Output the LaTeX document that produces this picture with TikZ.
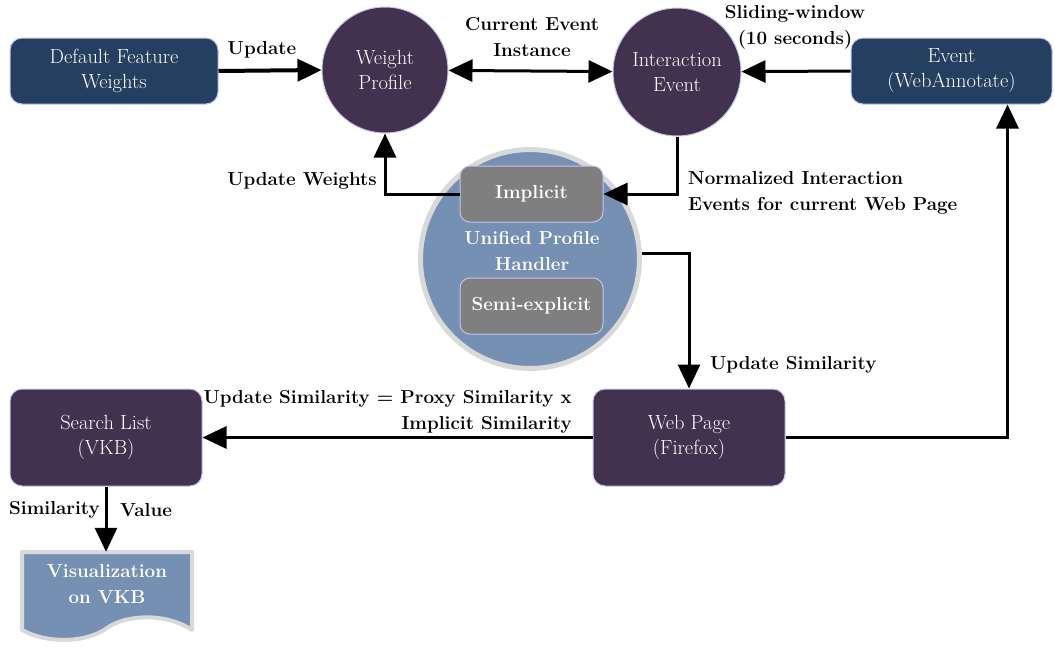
\documentclass[tikz,border=0pt]{standalone}
\usepackage{fontspec}
\usetikzlibrary{arrows.meta}
\definecolor{dblue}{HTML}{243F5F}
\definecolor{dpurple}{HTML}{42314F}
\definecolor{hblue}{HTML}{7690B3}
\definecolor{bgray}{HTML}{7F7F7F}
\definecolor{rgray}{HTML}{D9D9D9}
\definecolor{lav}{HTML}{C4C4EE}
\tikzset{
  box/.style={rounded corners=12pt, draw=lav, line width=1pt, text=white, align=center,
    font=\fontsize{20.5}{25}\selectfont, inner sep=0pt},
  circ/.style={circle, fill=dpurple, draw=lav, line width=1pt, text=white, align=center,
    font=\fontsize{20.5}{25}\selectfont, inner sep=0pt},
  gbox/.style={rounded corners=10pt, fill=bgray, draw=lav, line width=1pt, text=white,
    font=\bfseries\fontsize{18.8}{26}\selectfont, minimum width=143pt, minimum height=56pt, inner sep=0pt},
  lbl/.style={font=\bfseries\fontsize{18.8}{26}\selectfont, inner sep=0pt},
  arr/.style={line width=3pt, -{Triangle[length=24pt,width=22pt]}},
  darr/.style={line width=3pt, {Triangle[length=24pt,width=22pt]}-{Triangle[length=24pt,width=22pt]}}
}
\begin{document}
\begin{tikzpicture}[x=1pt,y=-1pt]
\useasboundingbox (0,0) rectangle (1055,646);
% nodes
\node[box, fill=dblue, minimum width=208pt, minimum height=66pt] (dfw) at (114,71) {Default Feature\\Weights};
\node[box, fill=dblue, minimum width=201pt, minimum height=66pt] (ev) at (951.5,71) {Event\\(WebAnnotate)};
\node[circ, minimum size=126pt] (wp) at (385,70) {Weight\\Profile};
\node[circ, minimum size=128pt] (ie) at (677,72) {Interaction\\Event};
\node[circle, fill=hblue, draw=rgray, line width=5pt, minimum size=219pt] (uph) at (530,259) {};
\node[gbox] (imp) at (531.5,194) {Implicit};
\node[gbox] (semi) at (531.5,306) {Semi-explicit};
\node[lbl, text=white, align=center] (uphl) at (532,251) {Unified Profile\\Handler};
\node[box, fill=dpurple, minimum width=192pt, minimum height=97pt] (sl) at (106,437.5) {Search List\\(VKB)};
\node[box, fill=dpurple, minimum width=192pt, minimum height=97pt] (web) at (689,437.5) {Web Page\\(Firefox)};
% visualization document shape
\draw[fill=hblue, draw=rgray, line width=4pt, line join=round]
  (22,552) -- (192,552) -- (192,630) .. controls (165,612) and (125,615) .. (107,628)
  .. controls (88,642) and (50,645) .. (22,630) -- cycle;
\node[lbl, text=white, align=center, minimum width=170pt, minimum height=84pt] (vis) at (106,594) {};
\node[lbl, text=white, align=center] (visl) at (107,584) {Visualization\\on VKB};
% connectors
\draw[arr, line width=4pt] (dfw.east) -- (wp.west);
\draw[darr] (wp) -- (ie);
\draw[arr] (ev.west) -- (ie);
\draw[arr] (imp.west) -| (wp.south);
\draw[arr] (ie.south) |- (imp.east);
\draw[arr] ([yshift=6pt]uph.east) -| (web.north);
\draw[arr] (web.west) -- (sl.east);
\draw[arr] (web.east) -| ([xshift=-45pt]ev.south east);
\draw[arr] (sl.south) -- (vis.north);
% labels
\node[lbl] (l1) at (262,50) {Update};
\node[lbl, align=center] (l2) at (532,37) {Current Event\\Instance};
\node[lbl, align=center] (l3) at (795,27) {Sliding-window\\(10 seconds)};
\node[lbl] (l4) at (302,181) {Update Weights};
\node[lbl, align=left, anchor=west] (l5) at (688,193) {Normalized Interaction\\Events for current Web Page};
\node[lbl, anchor=west] (l6) at (710,365) {Update Similarity};
\node[lbl, align=right, anchor=east] (l7) at (572,411.5) {Update Similarity = Proxy Similarity x\\Implicit Similarity};
\node[lbl, anchor=east] (l8) at (100,510) {Similarity};
\node[lbl, anchor=west] (l9) at (120,510) {Value};
\end{tikzpicture}
\end{document}
